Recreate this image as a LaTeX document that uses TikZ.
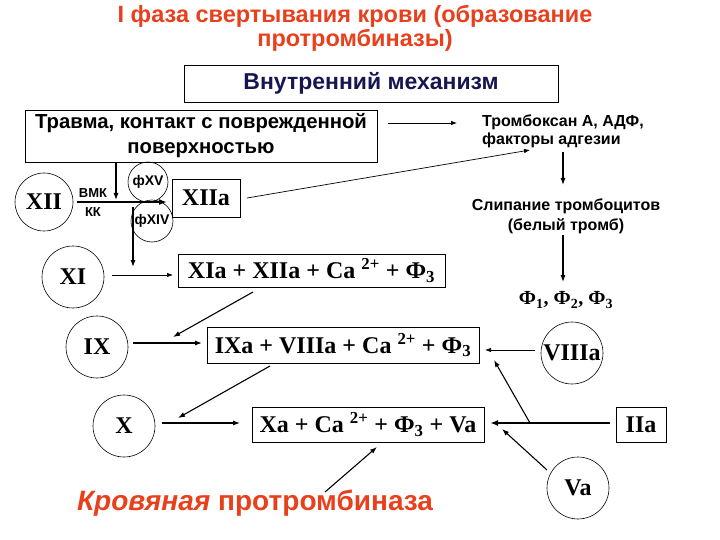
\documentclass[tikz,border=0pt]{standalone}
\usepackage{fontspec}
\setmainfont{Liberation Serif}
\newfontfamily\arial{Liberation Sans}
\usetikzlibrary{arrows.meta}
\definecolor{titlered}{RGB}{232,64,28}
\definecolor{navytext}{RGB}{22,22,80}
\begin{document}
\begin{tikzpicture}[x=1pt,y=-1pt,
  box/.style={draw, line width=0.9pt, inner sep=0pt},
  circ/.style={draw, circle, line width=0.6pt, inner sep=0pt, minimum size=62pt},
  smallcirc/.style={draw, circle, line width=0.6pt, inner sep=0pt, minimum size=41pt},
  arr/.style={-{Latex[length=7pt,width=5pt]}, line width=1.1pt},
  thinarr/.style={-{Latex[length=6pt,width=4.5pt]}, line width=0.7pt},
  thickarr/.style={-{Latex[length=8pt,width=6pt]}, line width=1.8pt},
  roman/.style={font=\fontsize{24}{26}\selectfont\bfseries},
  formula/.style={font=\fontsize{24}{26}\selectfont\bfseries},
  sanstext/.style={font=\arial\bfseries\fontsize{16}{18}\selectfont, inner sep=0pt},
  smallsans/.style={font=\arial\bfseries\fontsize{13}{15}\selectfont},
  circsans/.style={font=\arial\bfseries\fontsize{14}{16}\selectfont},
]
\useasboundingbox (0,0) rectangle (720,540);

% title
\node[font=\arial\bfseries\fontsize{23.5}{24}\selectfont, text=titlered, align=center] (title) at (355,28)
  {I фаза свертывания крови (образование\\протромбиназы)};

% header box
\node[box, minimum width=374, minimum height=37, text=navytext,
      font=\arial\bfseries\fontsize{23}{24}\selectfont] (mech) at (371,83.5) {Внутренний механизм};

% trauma box
\node[box, minimum width=352, minimum height=52, align=center,
      font=\arial\bfseries\fontsize{20.3}{25}\selectfont] (travma) at (201,136)
  {Травма, контакт с поврежденной\\поверхностью};

% right column texts
\node[sanstext, anchor=west, align=left] (tromb) at (482,131) {Тромбоксан А, АДФ,\\факторы адгезии};
\node[sanstext, align=center, font=\arial\bfseries\fontsize{16}{20}\selectfont] (slip) at (566,216) {Слипание тромбоцитов\\(белый тромб)};
\node[font=\fontsize{20}{22}\selectfont\bfseries, inner sep=0pt] (phi) at (566,300)
  {Ф\textsubscript{1}, Ф\textsubscript{2}, Ф\textsubscript{3}};

% factor circles
\node[circ, minimum size=58pt, roman] (xii) at (44,202) {XII};
\node[smallsans] (vmk) at (93,193) {ВМК};
\node[smallsans] (kk) at (93,212) {КК};
\node[smallcirc, minimum size=40pt, circsans] (phixv) at (148,182) {фXV};
\node[smallcirc, minimum size=42pt, circsans] (phixiv) at (152,221) {фXIV};
\node[box, minimum width=68, minimum height=38, roman] (xiia) at (206,198) {XIIa};

\node[circ, roman] (xi) at (73,277) {XI};
\node[box, minimum width=267, minimum height=33, formula] (xia) at (311.5,270.5)
  {XIa + XIIa + Ca \textsuperscript{2+} + Ф\textsubscript{3}};

\node[circ, roman] (ix) at (97,347) {IX};
\node[box, minimum width=272, minimum height=36, formula] (ixa) at (343,345)
  {IXa + VIIIa + Ca \textsuperscript{2+} + Ф\textsubscript{3}};
\node[circ, roman] (viiia) at (572,353) {VIIIa};

\node[circ, roman] (x) at (124,426) {X};
\node[box, minimum width=232, minimum height=35, formula] (xa) at (368,424.5)
  {Xa + Ca \textsuperscript{2+} + Ф\textsubscript{3} + Va};
\node[box, minimum width=50, minimum height=35, formula] (iia) at (641,424.5) {IIa};
\node[circ, roman] (va) at (578,488) {Va};

\node[font=\arial\bfseries\fontsize{28}{30}\selectfont, text=titlered, inner sep=0pt] (krov) at (255,503)
  {\itshape Кровяная\upshape{} протромбиназа};

% connectors
\draw[thinarr] ([shift={(187,-13)}]travma.center) -- ([shift={(-25,-8)}]tromb.west);
\draw[thinarr] ([shift={(41,0)}]xiia.center) -- ([shift={(48,19)}]tromb.west);
\draw[arr] ([shift={(81,21)}]tromb.west) -- ([shift={(-3,-31)}]slip.center);
\draw[arr] ([shift={(-3,19)}]slip.center) -- ([shift={(-3,-18)}]phi.center);

\draw[arr] ([shift={(-85,26)}]travma.center) -- ([shift={(72,-2)}]xii.center);
\draw[thickarr] ([shift={(33,0)}]xii.center) -- ([shift={(-39,4)}]xiia.center);
\draw[arr] ([shift={(-19,-14)}]phixiv.center) -- ([shift={(60,-10)}]xi.center);
\draw[thinarr] ([shift={(39,-2)}]xi.center) -- ([shift={(-138.5,4.5)}]xia.center);

\draw[arr] ([shift={(-58.5,21.5)}]xia.center) -- ([shift={(76,-10)}]ix.center);
\draw[arr] ([shift={(36,-4)}]ix.center) -- ([shift={(-141,-2)}]ixa.center);
\draw[thinarr] ([shift={(-37,-3)}]viiia.center) -- ([shift={(142,5)}]ixa.center);

\draw[arr] ([shift={(-73,21)}]ixa.center) -- ([shift={(54,-8)}]x.center);
\draw[arr] ([shift={(38,-3)}]x.center) -- ([shift={(-128,-1.5)}]xa.center);
\draw[thickarr] ([shift={(-31,-1.5)}]iia.center) -- ([shift={(122,-1.5)}]xa.center);
\coordinate (br) at ([shift={(-111,-1.5)}]iia.center);
\draw[arr] (br) -- ([shift={(151,15)}]ixa.center);
\draw[arr] ([shift={(-31,-18)}]va.center) -- ([shift={(134,4.5)}]xa.center);
\draw[arr] ([shift={(70,-11)}]krov.center) -- ([shift={(9,22.5)}]xa.center);
\end{tikzpicture}
\end{document}
